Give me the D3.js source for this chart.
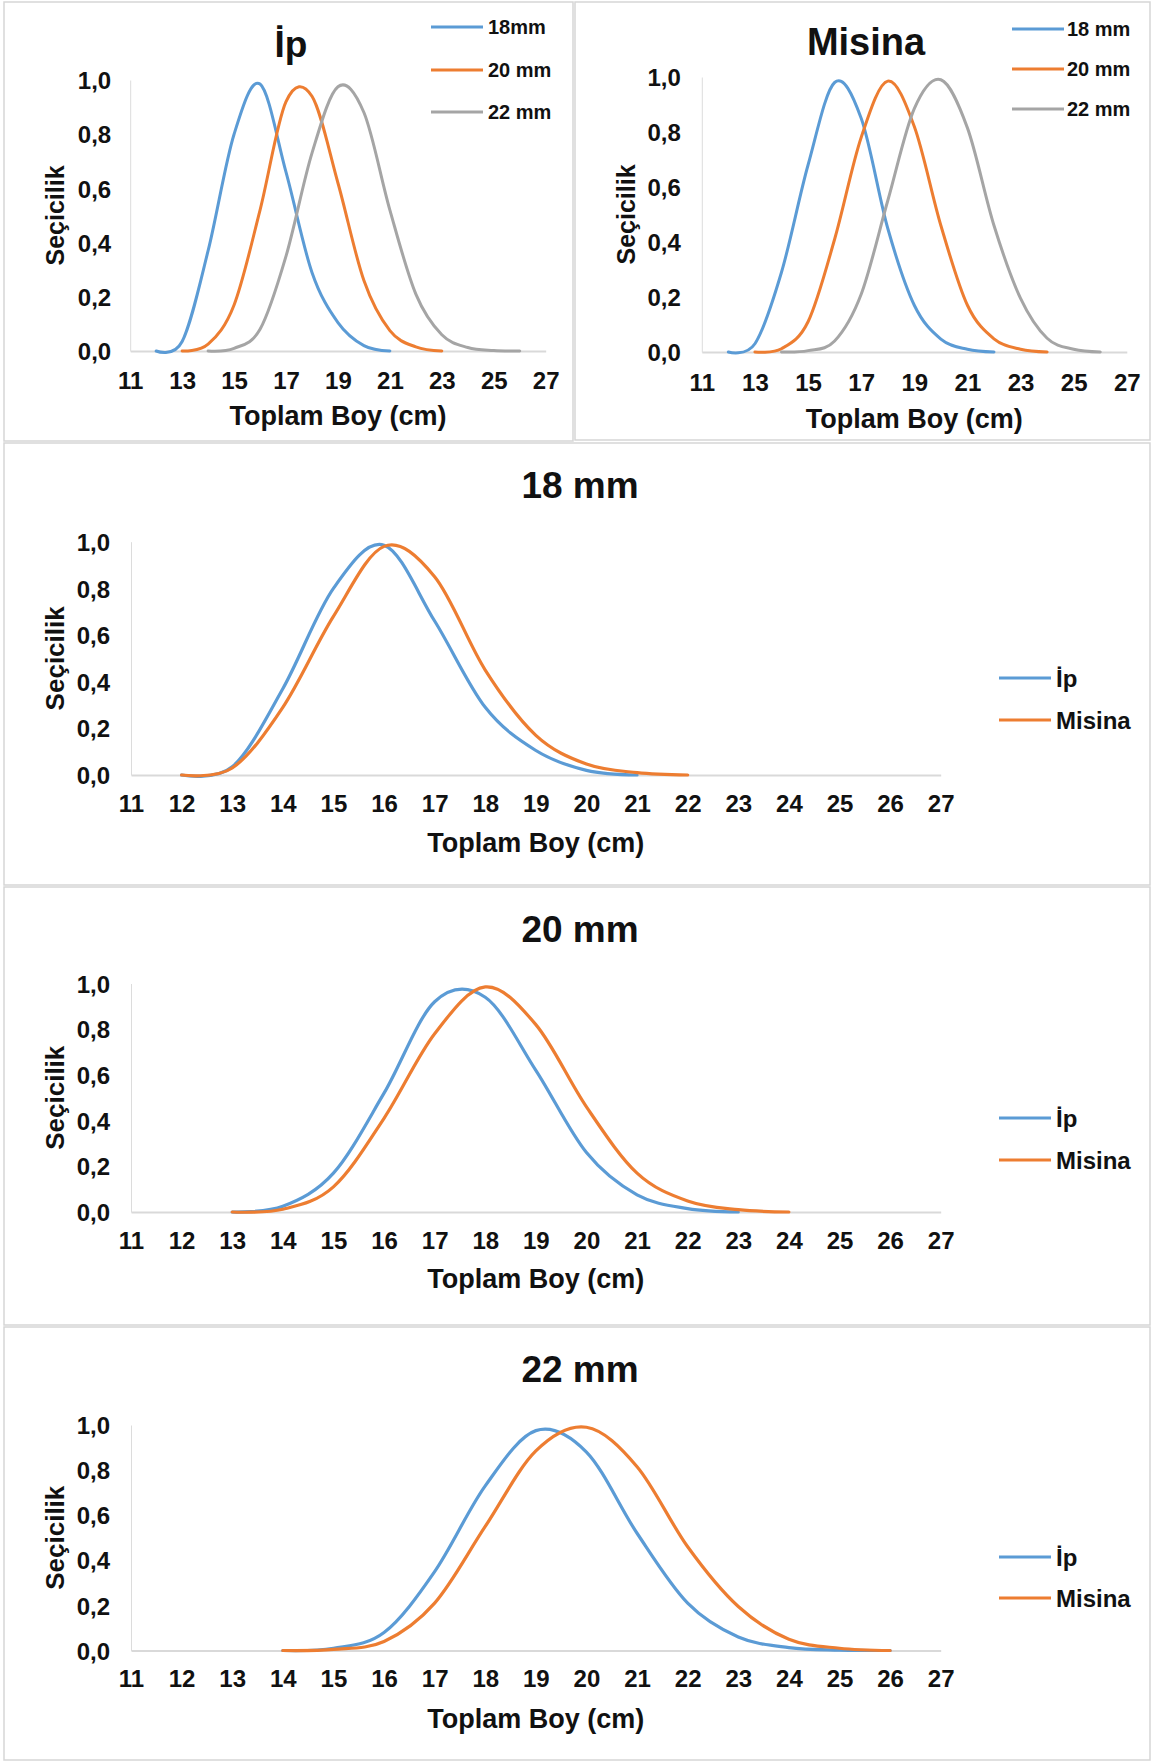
<!DOCTYPE html>
<html lang="tr">
<head>
<meta charset="utf-8">
<script src="https://cdn.jsdelivr.net/npm/d3@7"></script>
<style>
  html, body { margin: 0; padding: 0; background: #ffffff; }
  svg { display: block; }
  text { font-family: "Liberation Sans", Arial, sans-serif; font-weight: bold; fill: #111; }
</style>
</head>
<body>
<svg id="chart" width="1152" height="1762"></svg>
<script>
// Selectivity (Seçicilik) by total length (Toplam Boy, cm)
// İp = rope-mounted nets, Misina = monofilament-mounted nets; mesh 18, 20, 22 mm

const ipLen18 = [12, 13, 14, 15, 16, 17, 18, 19, 20, 21];
const ipSel18 = [0.0, 0.035, 0.37, 0.80, 0.985, 0.66, 0.29, 0.105, 0.02, 0.0];

const ipLen20 = [13, 14, 15, 16, 17, 18, 19, 20, 21, 22, 23];
const ipSel20 = [0.0, 0.025, 0.17, 0.52, 0.92, 0.94, 0.62, 0.26, 0.075, 0.015, 0.0];

const ipLen22 = [14, 15, 16, 17, 18, 19, 20, 21, 22, 23, 24, 25, 26];
const ipSel22 = [0.0, 0.01, 0.08, 0.35, 0.73, 0.975, 0.88, 0.52, 0.21, 0.06, 0.013, 0.002, 0.0];

const misLen18 = [12, 13, 14, 15, 16, 17, 18, 19, 20, 21, 22];
const misSel18 = [0.0, 0.03, 0.29, 0.68, 0.98, 0.85, 0.45, 0.17, 0.047, 0.01, 0.0];

const misLen20 = [13, 14, 15, 16, 17, 18, 19, 20, 21, 22, 23, 24];
const misSel20 = [0.0, 0.012, 0.11, 0.41, 0.78, 0.985, 0.82, 0.46, 0.17, 0.048, 0.01, 0.0];

const misLen22 = [14, 15, 16, 17, 18, 19, 20, 21, 22, 23, 24, 25, 26];
const misSel22 = [0.0, 0.005, 0.04, 0.21, 0.55, 0.885, 0.99, 0.815, 0.46, 0.195, 0.05, 0.01, 0.0];

const xTicksWide = [11, 13, 15, 17, 19, 21, 23, 25, 27];
const xTicksAll = [11, 12, 13, 14, 15, 16, 17, 18, 19, 20, 21, 22, 23, 24, 25, 26, 27];
const yTicks = [0, 0.2, 0.4, 0.6, 0.8, 1.0];

const xTitle = "Toplam Boy (cm)";
const yTitle = "Seçicilik";

const COLORS = { blue: "#5b9bd5", orange: "#ed7d31", gray: "#a5a5a5" };

const trLocale = d3.formatLocale({ decimal: ",", thousands: ".", grouping: [3], currency: ["", " TL"] });
const fmtY = trLocale.format(".1f");

const svg = d3.select("#chart");
svg.append("rect").attr("width", 1152).attr("height", 1762).attr("fill", "#fff");

// panel frames
const frames = [
  { x: 4, y: 2, w: 569, h: 439 },
  { x: 575, y: 2, w: 575, h: 438 },
  { x: 4, y: 443, w: 1146, h: 442 },
  { x: 4, y: 887, w: 1146, h: 438 },
  { x: 4, y: 1327, w: 1146, h: 433 }
];
svg.selectAll("rect.frame").data(frames).join("rect")
  .attr("class", "frame")
  .attr("x", d => d.x).attr("y", d => d.y)
  .attr("width", d => d.w).attr("height", d => d.h)
  .attr("fill", "none").attr("stroke", "#d6d6d6").attr("stroke-width", 1.5);

function pairs(lens, vals) { return lens.map((l, i) => [l, vals[i]]); }

function drawPanel(p) {
  const g = svg.append("g");
  const x = d3.scaleLinear().domain([11, 27]).range(p.xRange);
  const y = d3.scaleLinear().domain([0, 1]).range(p.yRange);

  // y axis (thin light line, labels only)
  const yAxis = g.append("g")
    .attr("transform", `translate(${p.xRange[0]},0)`)
    .call(d3.axisLeft(y).tickValues(yTicks).tickFormat(fmtY).tickSize(0).tickSizeOuter(0).tickPadding(p.yPad));
  yAxis.select(".domain").attr("stroke", "#dcdcdc").attr("stroke-width", 1);
  yAxis.selectAll("text")
    .attr("font-size", p.tickSize).attr("dy", "0.36em");
  yAxis.attr("font-family", null);

  // x axis
  const xAxis = g.append("g")
    .attr("transform", `translate(0,${p.yRange[0]})`)
    .call(d3.axisBottom(x).tickValues(p.xTicks).tickFormat(d3.format("d")).tickSize(0).tickSizeOuter(0));
  xAxis.select(".domain").attr("stroke", "#d9d9d9").attr("stroke-width", 2);
  xAxis.selectAll("text")
    .attr("font-size", p.tickSize).attr("y", p.xLabelOffset).attr("dy", "0.36em");
  xAxis.attr("font-family", null);

  // series
  const line = d3.line().x(d => x(d[0])).y(d => y(d[1])).curve(d3.curveCardinal.tension(0));
  g.selectAll("path.series").data(p.series).join("path")
    .attr("class", "series")
    .attr("d", s => line(pairs(s.len, s.sel)))
    .attr("fill", "none")
    .attr("stroke", s => s.color)
    .attr("stroke-width", p.lineWidth)
    .attr("stroke-linejoin", "round")
    .attr("stroke-linecap", "round");

  // titles
  g.append("text").attr("x", p.title[0]).attr("y", p.title[1])
    .attr("text-anchor", "middle").attr("font-size", p.titleSize).text(p.titleText);
  g.append("text").attr("x", (p.xRange[0] + p.xRange[1]) / 2).attr("y", p.xTitleY)
    .attr("text-anchor", "middle").attr("dy", "0.36em").attr("font-size", p.axisTitleSize).text(xTitle);
  g.append("text")
    .attr("transform", `translate(${p.yTitleX},${(p.yRange[0] + p.yRange[1]) / 2}) rotate(-90)`)
    .attr("text-anchor", "middle").attr("dy", "0.36em").attr("font-size", p.yTitleSize).text(yTitle);

  // legend
  const lg = g.selectAll("g.legend").data(p.series).join("g")
    .attr("class", "legend")
    .attr("transform", (s, i) => `translate(0,${p.legend.ys[i]})`);
  lg.append("line").attr("x1", p.legend.x0).attr("x2", p.legend.x1)
    .attr("stroke", s => s.color).attr("stroke-width", p.lineWidth);
  lg.append("text").attr("x", p.legend.tx).attr("dy", "0.36em")
    .attr("font-size", p.legend.size).text(s => s.name);
}

// İp: three mesh sizes
drawPanel({
  xRange: [130.2, 545.7], yRange: [351, 80], xTicks: xTicksWide,
  tickSize: 24, yPad: 19, xLabelOffset: 29, lineWidth: 3,
  titleText: "İp", title: [291, 57], titleSize: 37,
  xTitleY: 415, axisTitleSize: 27, yTitleX: 55, yTitleSize: 25,
  legend: { x0: 431, x1: 483, tx: 488, ys: [27, 70, 112], size: 20 },
  series: [
    { name: "18mm", len: ipLen18, sel: ipSel18, color: COLORS.blue },
    { name: "20 mm", len: ipLen20, sel: ipSel20, color: COLORS.orange },
    { name: "22 mm", len: ipLen22, sel: ipSel22, color: COLORS.gray }
  ]
});

// Misina: three mesh sizes
drawPanel({
  xRange: [701.8, 1126.8], yRange: [352, 77], xTicks: xTicksWide,
  tickSize: 24, yPad: 21, xLabelOffset: 30, lineWidth: 3,
  titleText: "Misina", title: [866, 55], titleSize: 38,
  xTitleY: 418, axisTitleSize: 27, yTitleX: 626, yTitleSize: 25,
  legend: { x0: 1012, x1: 1064, tx: 1067, ys: [29, 69, 109], size: 20 },
  series: [
    { name: "18 mm", len: misLen18, sel: misSel18, color: COLORS.blue },
    { name: "20 mm", len: misLen20, sel: misSel20, color: COLORS.orange },
    { name: "22 mm", len: misLen22, sel: misSel22, color: COLORS.gray }
  ]
});

// per-mesh comparisons: İp vs Misina
const meshPanels = [
  { titleText: "18 mm", yRange: [775, 541.7], titleY: 497.7, xTitleY: 842, ys: [678, 720],
    ip: [ipLen18, ipSel18], mis: [misLen18, misSel18] },
  { titleText: "20 mm", yRange: [1212, 983.5], titleY: 941.7, xTitleY: 1278, ys: [1118, 1160],
    ip: [ipLen20, ipSel20], mis: [misLen20, misSel20] },
  { titleText: "22 mm", yRange: [1650.5, 1425], titleY: 1381.7, xTitleY: 1718, ys: [1557, 1598],
    ip: [ipLen22, ipSel22], mis: [misLen22, misSel22] }
];

meshPanels.forEach(m => drawPanel({
  xRange: [131, 940.7], yRange: m.yRange, xTicks: xTicksAll,
  tickSize: 24, yPad: 21, xLabelOffset: 28, lineWidth: 3.2,
  titleText: m.titleText, title: [580, m.titleY], titleSize: 37,
  xTitleY: m.xTitleY, axisTitleSize: 27, yTitleX: 55, yTitleSize: 26,
  legend: { x0: 999, x1: 1051, tx: 1056, ys: m.ys, size: 24 },
  series: [
    { name: "İp", len: m.ip[0], sel: m.ip[1], color: COLORS.blue },
    { name: "Misina", len: m.mis[0], sel: m.mis[1], color: COLORS.orange }
  ]
}));
</script>
</body>
</html>
